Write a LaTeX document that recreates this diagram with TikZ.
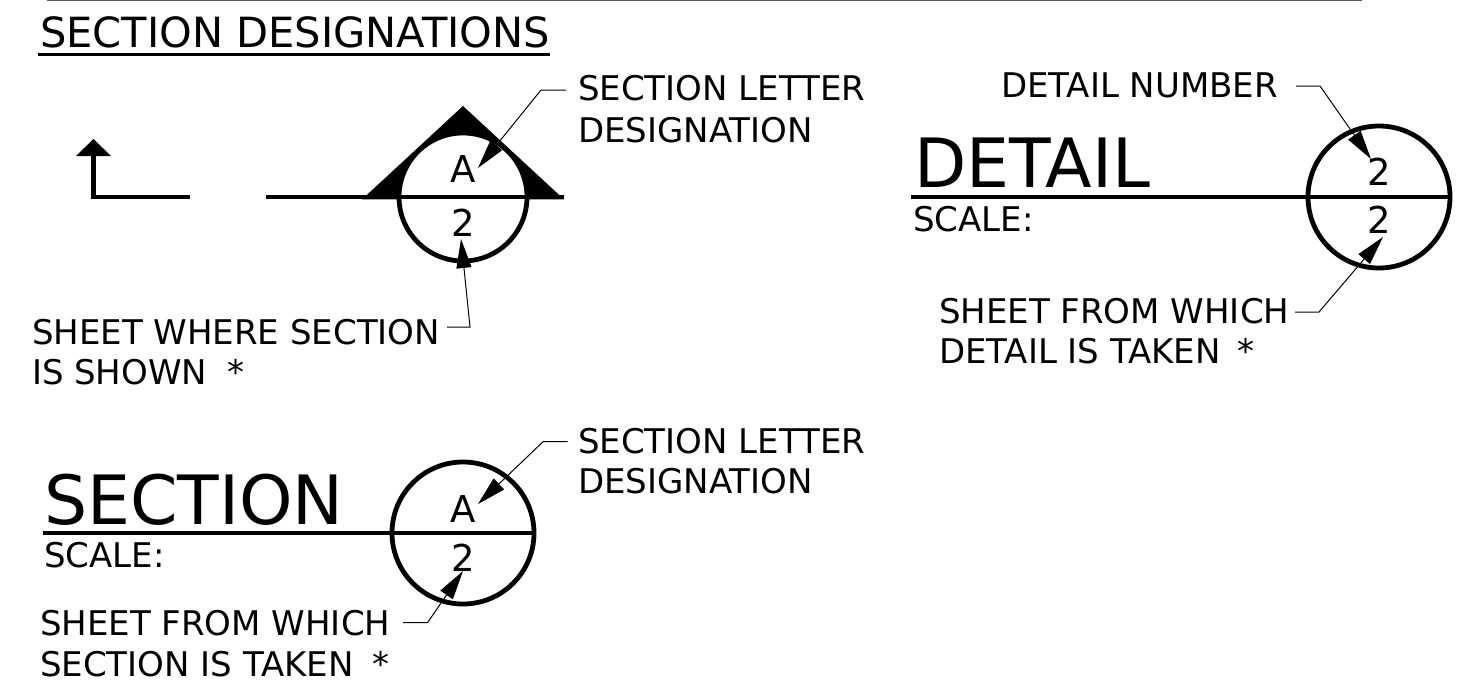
\documentclass[tikz,border=0pt]{standalone}
\usepackage{fontspec}
\setmainfont{DejaVu Sans}
\usetikzlibrary{arrows.meta}
\tikzset{
  lbl/.style={anchor=base west,inner sep=0pt,outer sep=0pt,font=\fontsize{34}{40}\selectfont},
  big/.style={anchor=base west,inner sep=0pt,outer sep=0pt,font=\fontsize{68}{70}\selectfont},
  ttl/.style={anchor=base west,inner sep=0pt,outer sep=0pt,font=\fontsize{41.6}{44}\selectfont},
  num/.style={anchor=base,inner sep=0pt,outer sep=0pt,font=\fontsize{37}{40}\selectfont},
  heavy/.style={line width=4.8pt},
  leader/.style={line width=1pt,-{Triangle[length=29pt,width=15pt]}},
  ring/.style={circle,draw,line width=4.8pt,minimum size=#1,inner sep=0pt,fill=white}
}
\begin{document}
\begin{tikzpicture}[x=1pt,y=-1pt]
\useasboundingbox (0,0) rectangle (1470,686);
\coordinate (ts) at (47,0.5); \coordinate (te) at (1362,0.5);
\draw[line width=1.5pt,black!65] (ts) -- (te);
% title
\node[ttl] (title) at (40,47) {SECTION DESIGNATIONS};
\coordinate (us) at (38,54.5); \coordinate (ue) at (550,54.5);
\draw[line width=3pt] (us) -- (ue);
% cut mark
\coordinate (ap) at (93.5,139); \coordinate (bl) at (76,156); \coordinate (br) at (111,156);
\coordinate (c0) at (93.5,197); \coordinate (c1) at (190,197);
\fill (ap) -- (bl) -- (br) -- cycle;
\draw[heavy] (93.5,156) -- (c0) -- (c1);
% section mark
\coordinate (tA) at (463,106); \coordinate (tL) at (362,199.4); \coordinate (tR) at (564,199.4);
\fill (tA) -- (tL) -- (tR) -- cycle;
\node[ring=128pt] (r1) at (463,197) {};
\coordinate (l1s) at (266,197);
\draw[heavy] (l1s) -- (tR |- l1s);
\node[num] (a1) at (463,182) {A};
\node[num] (n1) at (463,236) {2};
\node[lbl] (s1) at (578,100) {SECTION LETTER};
\node[lbl] (s2) at (578,142) {DESIGNATION};
\coordinate (e1) at (566,90); \coordinate (k1) at (541,90); \coordinate (t1) at (478,168);
\draw[leader] (e1) -- (k1) -- (t1);
\node[lbl] (s3) at (32,344) {SHEET WHERE SECTION};
\node[lbl] (s4) at (32,384) {IS SHOWN\hspace{9pt} *};
\coordinate (e2) at (447,327); \coordinate (k2) at (470,327); \coordinate (t2) at (461,239);
\draw[leader] (e2) -- (k2) -- (t2);
% detail
\node[ring=142pt] (r2) at (1379,197) {};
\coordinate (l2s) at (911,197); \coordinate (l2e) at (1451,197);
\draw[heavy] (l2s) -- (l2e);
\node[big] (d1) at (914,187) {DETAIL};
\node[lbl] (d2) at (913,231) {SCALE:};
\node[num] (n2) at (1379,185) {2};
\node[num] (n3) at (1379,233) {2};
\node[lbl] (d3) at (1001,97) {DETAIL NUMBER};
\coordinate (e3) at (1296,86); \coordinate (k3) at (1320,86); \coordinate (t3) at (1371,159);
\draw[leader] (e3) -- (k3) -- (t3);
\node[lbl] (d4) at (939,323) {SHEET FROM WHICH};
\node[lbl] (d5) at (939,363) {DETAIL IS TAKEN\hspace{6pt} *};
\coordinate (e4) at (1295,312); \coordinate (k4) at (1319,312); \coordinate (t4) at (1383,237);
\draw[leader] (e4) -- (k4) -- (t4);
% section
\node[ring=142pt] (r3) at (463,533) {};
\coordinate (l3s) at (42.5,533); \coordinate (l3e) at (535,533);
\draw[heavy] (l3s) -- (l3e);
\node[big] (b1) at (44,524) {SECTION};
\node[lbl] (b2) at (44,567) {SCALE:};
\node[num] (a3) at (463,522) {A};
\node[num] (n4) at (463,571) {2};
\node[lbl] (b3) at (578,453) {SECTION LETTER};
\node[lbl] (b4) at (578,493) {DESIGNATION};
\coordinate (e5) at (567.5,441.7); \coordinate (k5) at (543,441.7); \coordinate (t5) at (478,504);
\draw[leader] (e5) -- (k5) -- (t5);
\node[lbl] (b5) at (40,635) {SHEET FROM WHICH};
\node[lbl] (b6) at (40,676) {SECTION IS TAKEN\hspace{8pt} *};
\coordinate (e6) at (403,622.7); \coordinate (k6) at (427.5,622.7); \coordinate (t6) at (463,571);
\draw[leader] (e6) -- (k6) -- (t6);
\end{tikzpicture}
\end{document}
